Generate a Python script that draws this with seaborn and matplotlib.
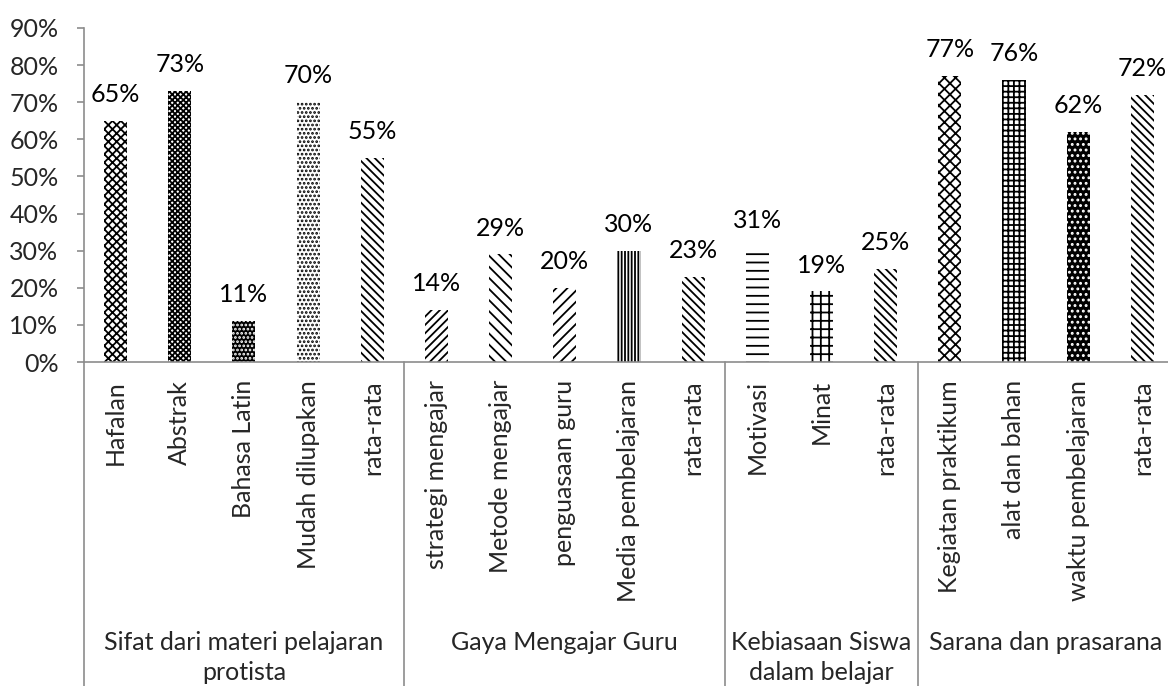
import matplotlib
matplotlib.use("Agg")
import matplotlib.pyplot as plt
import matplotlib.transforms as mtransforms
import seaborn as sns
import pandas as pd

# data
items = ['Hafalan', 'Abstrak', 'Bahasa Latin', 'Mudah dilupakan', 'rata-rata',
         'strategi mengajar', 'Metode mengajar', 'penguasaan guru', 'Media pembelajaran', 'rata-rata',
         'Motivasi', 'Minat', 'rata-rata',
         'Kegiatan praktikum', 'alat dan bahan', 'waktu pembelajaran', 'rata-rata']
values = [65, 73, 11, 70, 55,
          14, 29, 20, 30, 23,
          31, 19, 25,
          77, 76, 62, 72]
groups = ['Sifat dari materi pelajaran\nprotista', 'Gaya Mengajar Guru',
          'Kebiasaan Siswa\ndalam belajar', 'Sarana dan prasarana']
group_sizes = [5, 5, 3, 4]

# hatch per bar: (hatch, facecolor, hatchcolor)
hatches = [('xxxx', 'white', 'black'), ('xxxxxx', 'white', 'black'), ('....', 'black', 'white'),
           ('....', 'white', 'black'), ('\\\\\\\\', 'white', 'black'),
           ('////', 'white', 'black'), ('\\\\\\', 'white', 'black'), ('///', 'white', 'black'),
           ('|||||', 'white', 'black'), ('\\\\\\\\', 'white', 'black'),
           ('--', 'white', 'black'), ('++', 'white', 'black'), ('\\\\\\\\', 'white', 'black'),
           ('xxx', 'white', 'black'), ('+++', 'white', 'black'), ('...', 'black', 'white'),
           ('\\\\\\\\', 'white', 'black')]

df = pd.DataFrame({'key': [str(i) for i in range(len(items))], 'value': values})

sns.set_theme(style="ticks", rc={"axes.spines.right": False, "axes.spines.top": False})
plt.rcParams['font.family'] = ['Lato', 'DejaVu Sans']
plt.rcParams['hatch.linewidth'] = 1.3
axis_color = '#8c8c8c'
fs = 18

fig = plt.figure(figsize=(11.68, 6.86), dpi=100)
ax = fig.add_axes([0.0715, 0.4723, 0.934, 0.4869])
sns.barplot(data=df, x='key', y='value', color='white', width=0.36, ax=ax)

for p, (h, fc, hc) in zip(ax.patches, hatches):
    p.set_facecolor(fc)
    p.set_edgecolor(hc)
    p.set_hatch(h)
    p.set_linewidth(0)

# value labels above bars
for p, v in zip(ax.patches, values):
    ax.annotate(f'{v}%', (p.get_x() + p.get_width() / 2, p.get_height()),
                xytext=(0, 13.5), textcoords='offset points',
                ha='center', va='baseline', fontsize=fs, color='black')

ax.set_ylim(0, 90)
ax.set_xlim(-0.5, len(items) - 0.5)
ax.set_yticks(range(0, 91, 10))
ax.set_yticklabels([f'{t}%' for t in range(0, 91, 10)], fontsize=fs)
ax.set_xticks(range(len(items)))
ax.set_xticklabels(items, rotation=90, fontsize=fs, va='top')
ax.tick_params(axis='x', length=0, pad=13)
ax.tick_params(axis='y', length=5, width=1.2, color=axis_color, pad=13)
ax.set_xlabel('')
ax.set_ylabel('')
for s in ['left', 'bottom']:
    ax.spines[s].set_color(axis_color)
    ax.spines[s].set_linewidth(1.2)

# group separators and group labels below the axis
trans = mtransforms.blended_transform_factory(ax.transData, ax.transAxes)
bounds = [-0.5]
start = 0
for g, n in zip(groups, group_sizes):
    center = start + (n - 1) / 2
    ax.text(center, -0.805, g, transform=trans, ha='center', va='top',
            fontsize=fs, linespacing=1.35)
    start += n
    bounds.append(start - 0.5)
for b in bounds:
    ax.plot([b, b], [0, -1.05], transform=trans, color=axis_color, lw=1.2, clip_on=False)

fig.savefig('out.png', dpi=100)
